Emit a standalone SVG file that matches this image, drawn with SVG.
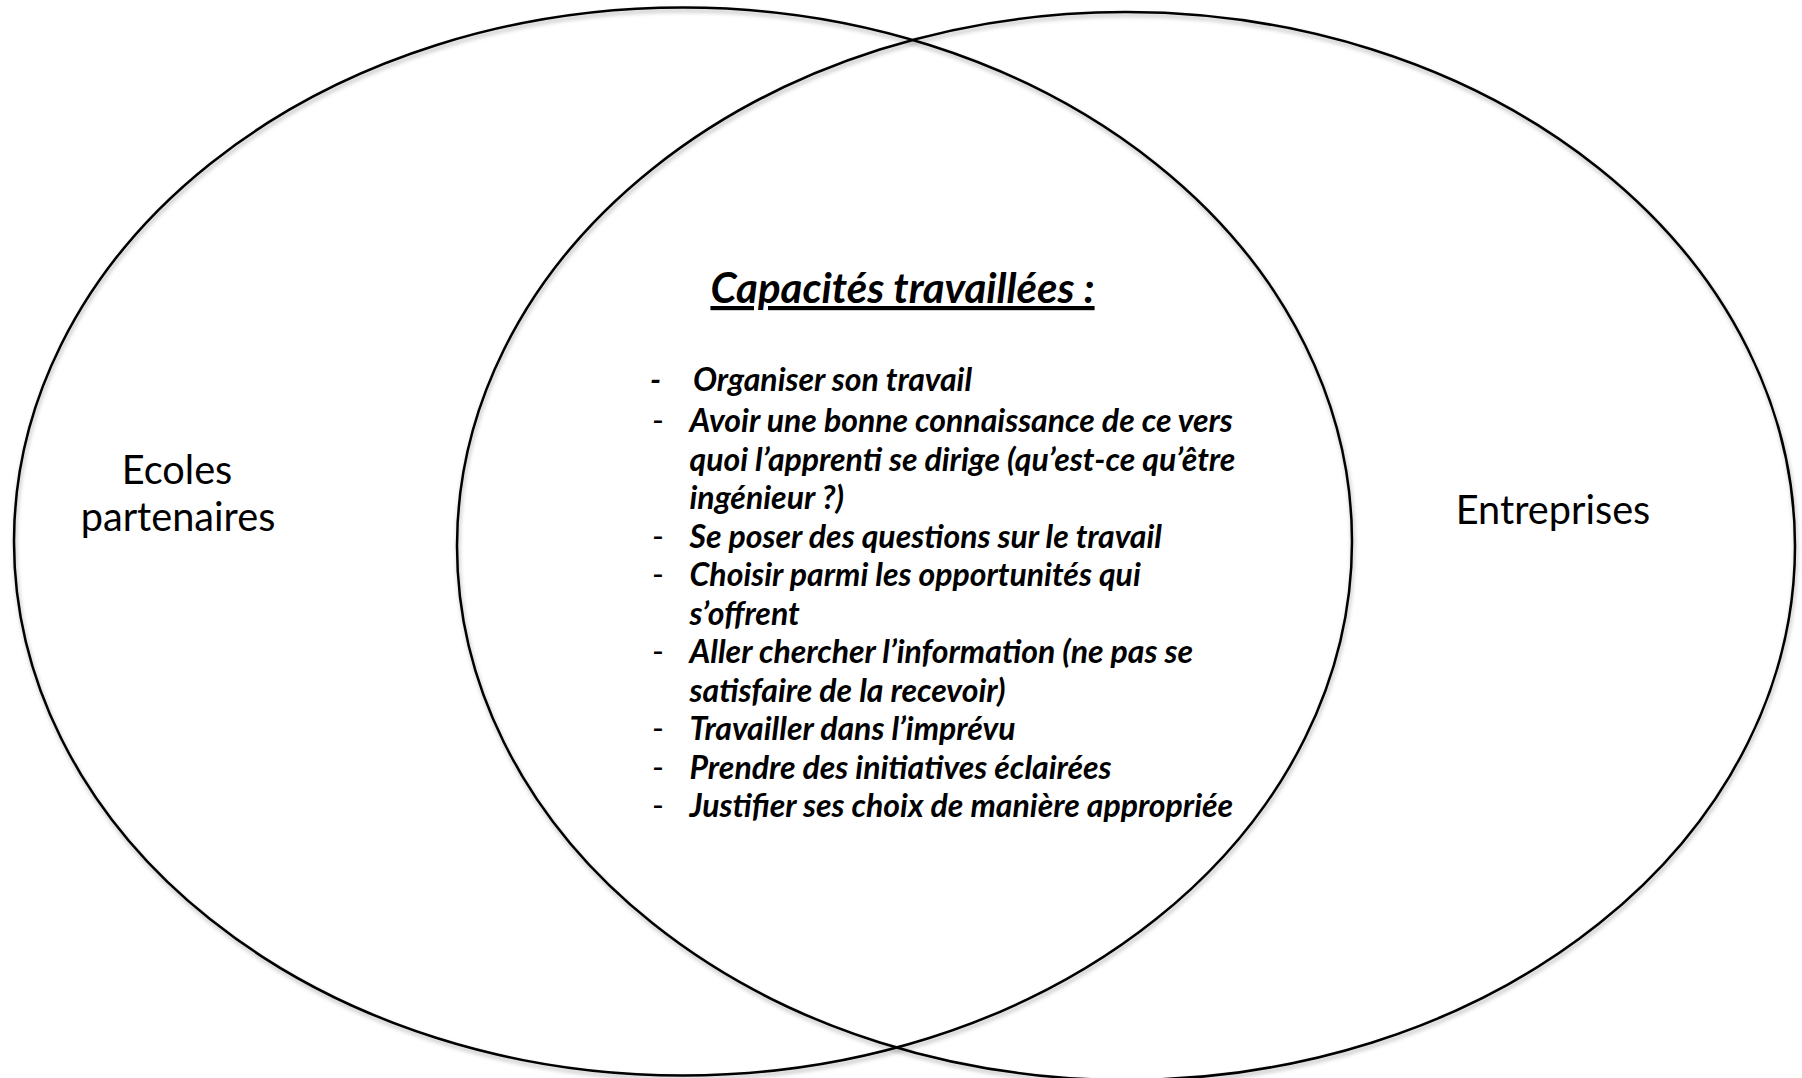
<svg xmlns="http://www.w3.org/2000/svg" width="1802" height="1078" viewBox="0 0 1802 1078">
  <defs>
    <filter id="sh" x="-5%" y="-5%" width="110%" height="110%">
      <feDropShadow dx="1" dy="3" stdDeviation="2" flood-color="#000" flood-opacity="0.3"/>
    </filter>
  </defs>
  <style>
    .ell { fill: none; stroke: #000; stroke-width: 2.5; }
    .lbl { font-family: Lato, "Liberation Sans", sans-serif; font-size: 39.7px; fill: #000; }
    .title { font-family: Lato, "Liberation Sans", sans-serif; font-size: 42px; font-weight: bold; font-style: italic; text-decoration: underline; fill: #000; }
    .item { font-family: Lato, "Liberation Sans", sans-serif; font-size: 32px; font-weight: bold; font-style: italic; fill: #000; }
    .dash { font-family: Lato, "Liberation Sans", sans-serif; font-size: 32px; fill: #000; }
  </style>
  <rect width="1802" height="1078" fill="#fff"/>
  <g id="ecoles">
    <ellipse class="ell" filter="url(#sh)" cx="683" cy="541.5" rx="669" ry="534"/>
    <text class="lbl" text-anchor="middle"><tspan x="177" y="484">Ecoles</tspan><tspan x="178" y="531">partenaires</tspan></text>
  </g>
  <g id="entreprises">
    <ellipse class="ell" filter="url(#sh)" cx="1126" cy="546" rx="669" ry="534"/>
    <text class="lbl" text-anchor="middle" x="1553" y="524">Entreprises</text>
  </g>
  <g id="capacites">
    <text class="title" text-anchor="middle" x="902.5" y="303">Capacités travaillées :</text>
    <text class="item" x="650" y="391">-</text>
    <text class="item" x="693" y="391">Organiser son travail</text>
    <text class="dash" x="652" y="432">-</text>
    <text class="item" x="689.5" y="432">Avoir une bonne connaissance de ce vers</text>
    <text class="item" x="689.5" y="470.5">quoi l’apprenti se dirige (qu’est-ce qu’être</text>
    <text class="item" x="689.5" y="509">ingénieur ?)</text>
    <text class="dash" x="652" y="547.5">-</text>
    <text class="item" x="689.5" y="547.5">Se poser des questions sur le travail</text>
    <text class="dash" x="652" y="586">-</text>
    <text class="item" x="689.5" y="586">Choisir parmi les opportunités qui</text>
    <text class="item" x="689.5" y="624.5">s’offrent</text>
    <text class="dash" x="652" y="663">-</text>
    <text class="item" x="689.5" y="663">Aller chercher l’information (ne pas se</text>
    <text class="item" x="689.5" y="701.5">satisfaire de la recevoir)</text>
    <text class="dash" x="652" y="740">-</text>
    <text class="item" x="689.5" y="740">Travailler dans l’imprévu</text>
    <text class="dash" x="652" y="778.5">-</text>
    <text class="item" x="689.5" y="778.5">Prendre des initiatives éclairées</text>
    <text class="dash" x="652" y="817">-</text>
    <text class="item" x="689.5" y="817">Justifier ses choix de manière appropriée</text>
  </g>
</svg>
